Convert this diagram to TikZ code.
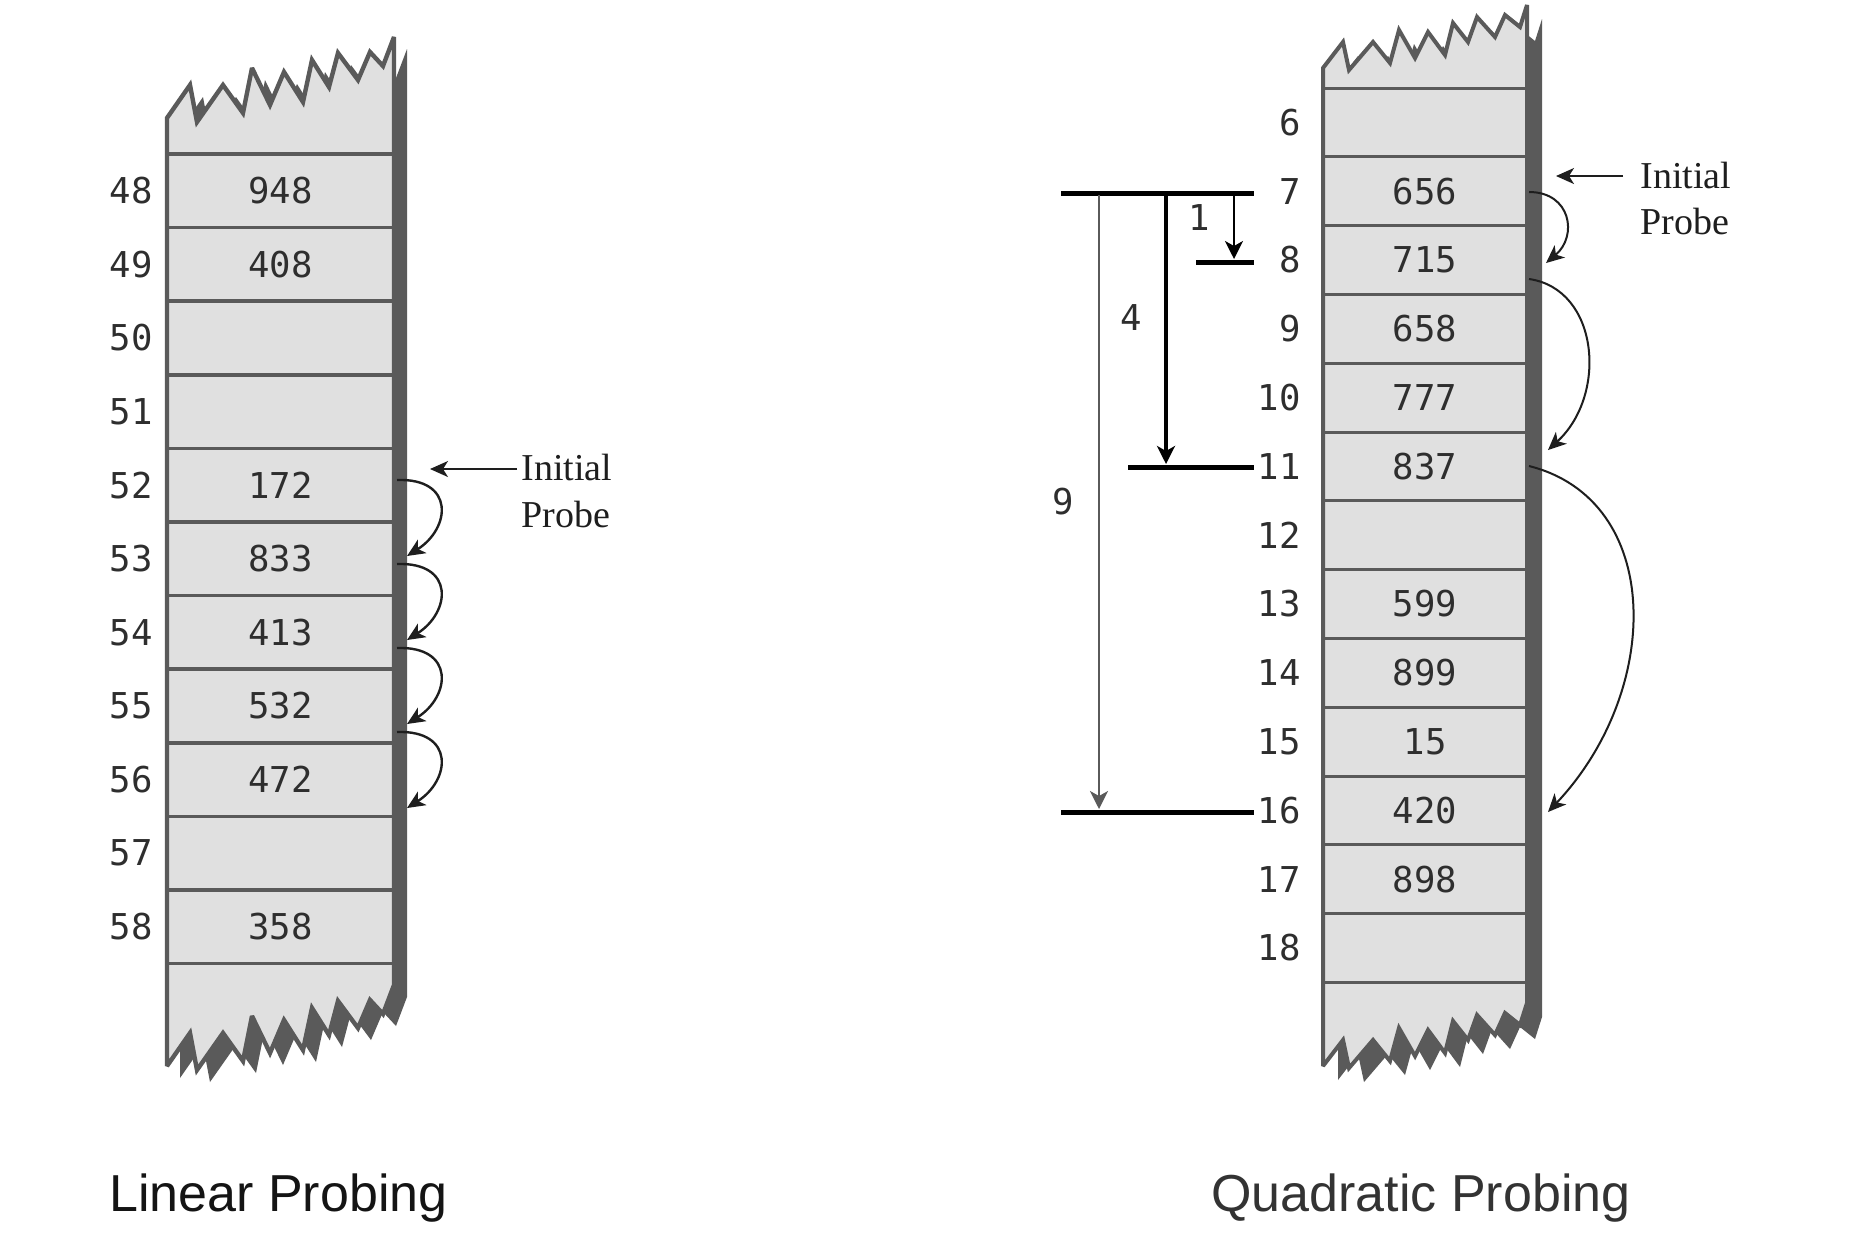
\documentclass[tikz,border=0pt]{standalone}
\usepackage{fontspec}
\setmainfont{Liberation Serif}
\newfontfamily\monofont{DejaVu Sans Mono}
\newfontfamily\capfont{Liberation Sans}
\usetikzlibrary{arrows.meta}
\definecolor{cellfill}{HTML}{E0E0E0}
\definecolor{edgecol}{HTML}{5A5A5A}
\definecolor{numcol}{HTML}{2E2E2E}
\definecolor{arrcol}{HTML}{1E1E1E}
\newcommand\LPpath[1]{\path[#1] (167,1066) -- (167,118) -- (190,85) -- (197,122) -- (223,85) -- (243,113) -- (252,68) -- (270,105) -- (284,72) -- (303,102) -- (312,60) -- (329,87) -- (338,53) -- (358,80) -- (370,52) -- (383,66) -- (394,37) -- (394,985) -- (383,1014) -- (370,1000) -- (358,1028) -- (338,1001) -- (329,1035) -- (312,1008) -- (303,1050) -- (284,1020) -- (270,1053) -- (252,1016) -- (243,1061) -- (223,1033) -- (197,1070) -- (190,1033) -- cycle;}
\newcommand\QPpath[1]{\path[#1] (1323,1066) -- (1323,68) -- (1343,42) -- (1349,70) -- (1373,42) -- (1390,63) -- (1399,30) -- (1415,58) -- (1428,32) -- (1445,55) -- (1453,23) -- (1468,42) -- (1477,17) -- (1495,37) -- (1505,15) -- (1520,27) -- (1527,5) -- (1527,1003) -- (1520,1025) -- (1505,1013) -- (1495,1035) -- (1477,1015) -- (1468,1040) -- (1453,1021) -- (1445,1053) -- (1428,1030) -- (1415,1056) -- (1399,1028) -- (1390,1061) -- (1373,1040) -- (1349,1068) -- (1343,1040) -- cycle;}
\begin{document}
\begin{tikzpicture}[x=0.5pt,y=-0.5pt,
  num/.style={font=\monofont\fontsize{17.8pt}{20pt}\selectfont, text=numcol, inner sep=0pt},
  cellline/.style={draw=edgecol, line width=1.8pt},
  boxline/.style={fill=cellfill, draw=edgecol, line join=miter, miter limit=3},
  probetext/.style={font=\fontsize{19pt}{22pt}\selectfont, text=arrcol, inner sep=0pt, anchor=base west},
  probe/.style={-{Stealth[length=9pt,width=8pt,inset=2.5pt]}, line width=0.9pt, draw=arrcol},
  larc/.style={-{Stealth[length=9pt,width=8pt,inset=2.5pt]}, line width=1.2pt, draw=arrcol},
  bar/.style={draw=black, line width=2.5pt},
  jump/.style={-{Stealth[length=9pt,width=9pt,inset=2.5pt]}, draw=black},
  capt/.style={font=\capfont\fontsize{26pt}{30pt}\selectfont, inner sep=0pt, anchor=base west}]
\useasboundingbox (0,0) rectangle (1874,1250);
\fill[white] (0,0) rectangle (1874,1250);

% ---------- Linear probing table ----------
\LPpath{fill=edgecol, shift={(13,12)}}
\LPpath{boxline, line width=2.2pt}
\foreach \k in {0,...,11} \draw[cellline] (167,{154+73.6*\k}) -- (394,{154+73.6*\k});
\foreach \lab/\val [count=\i from 0] in {48/948,49/408,50/,51/,52/172,53/833,54/413,55/532,56/472,57/,58/358} {
  \node[num, anchor=east] (Llab\lab) at (153,{154+73.6*\i+36.8}) {\lab};
  \node[num] (Lval\lab) at (280.5,{154+73.6*\i+36.8}) {\val};
}
\node[probetext] (Lini) at (521,480) {Initial};
\node[probetext] (Lprb) at (521,527) {Probe};
\coordinate (LiA) at (517,469);
\coordinate (LiB) at (430,469);
\draw[probe] (LiA) -- (LiB);
\foreach \k in {0,...,3} {
  \coordinate (Ls\k) at (397,{480+84*\k});
  \coordinate (Le\k) at (407,{556+84*\k});
  \draw[larc] (Ls\k) .. controls +(58,-2) and +(44,-28) .. (Le\k);
}

% ---------- Quadratic probing table ----------
\QPpath{fill=edgecol, shift={(15,14)}}
\QPpath{boxline, line width=2pt}
\foreach \k in {0,...,13} \draw[cellline, line width=1.5pt] (1323,{88+68.8*\k}) -- (1527,{88+68.8*\k});
\foreach \lab/\val [count=\i from 0] in {6/,7/656,8/715,9/658,10/777,11/837,12/,13/599,14/899,15/15,16/420,17/898,18/} {
  \node[num, anchor=east] (Qlab\lab) at (1301,{88+68.8*\i+34.4}) {\lab};
  \node[num] (Qval\lab) at (1425,{88+68.8*\i+34.4}) {\val};
}
\node[probetext] (Qini) at (1640,188) {Initial};
\node[probetext] (Qprb) at (1640,234) {Probe};
\coordinate (QiA) at (1623,176);
\coordinate (QiB) at (1556,176);
\draw[probe] (QiA) -- (QiB);

\coordinate (Qs1) at (1529,192);  \coordinate (Qe1) at (1546,263);
\coordinate (Qs2) at (1529,279);  \coordinate (Qe2) at (1548,450);
\coordinate (Qs3) at (1529,466);  \coordinate (Qe3) at (1548,812);
\draw[larc, line width=1pt] (Qs1) .. controls +(42,0) and +(32,-27) .. (Qe1);
\draw[larc, line width=1pt] (Qs2) .. controls +(70,10) and +(60,-55) .. (Qe2);
\draw[larc, line width=1pt] (Qs3) .. controls +(135,34) and +(115,-122) .. (Qe3);

% step bars
\coordinate (B7a) at (1061,193);  \coordinate (B7b) at (1254,193);
\coordinate (B8a) at (1196,262);  \coordinate (B8b) at (1254,262);
\coordinate (B11a) at (1128,467); \coordinate (B11b) at (1254,467);
\coordinate (B16a) at (1061,812); \coordinate (B16b) at (1254,812);
\draw[bar] (B7a) -- (B7b);
\draw[bar] (B8a) -- (B8b);
\draw[bar] (B11a) -- (B11b);
\draw[bar] (B16a) -- (B16b);
\coordinate (J1a) at (1234,195); \coordinate (J1b) at (1234,259);
\coordinate (J4a) at (1166,195); \coordinate (J4b) at (1166,464);
\coordinate (J9a) at (1099,195); \coordinate (J9b) at (1099,809);
\draw[jump, line width=1pt] (J1a) -- (J1b);
\draw[jump, line width=1.8pt] (J4a) -- (J4b);
\draw[jump, line width=1pt, draw=edgecol] (J9a) -- (J9b);
\node[num] (D1) at (1199,218) {1};
\node[num] (D4) at (1131,318) {4};
\node[num] (D9) at (1063,502) {9};

% ---------- captions ----------
\node[capt, text=black!92] (capL) at (109,1211) {Linear Probing};
\node[capt, text=black!80] (capQ) at (1211,1211) {Quadratic Probing};
\end{tikzpicture}
\end{document}
